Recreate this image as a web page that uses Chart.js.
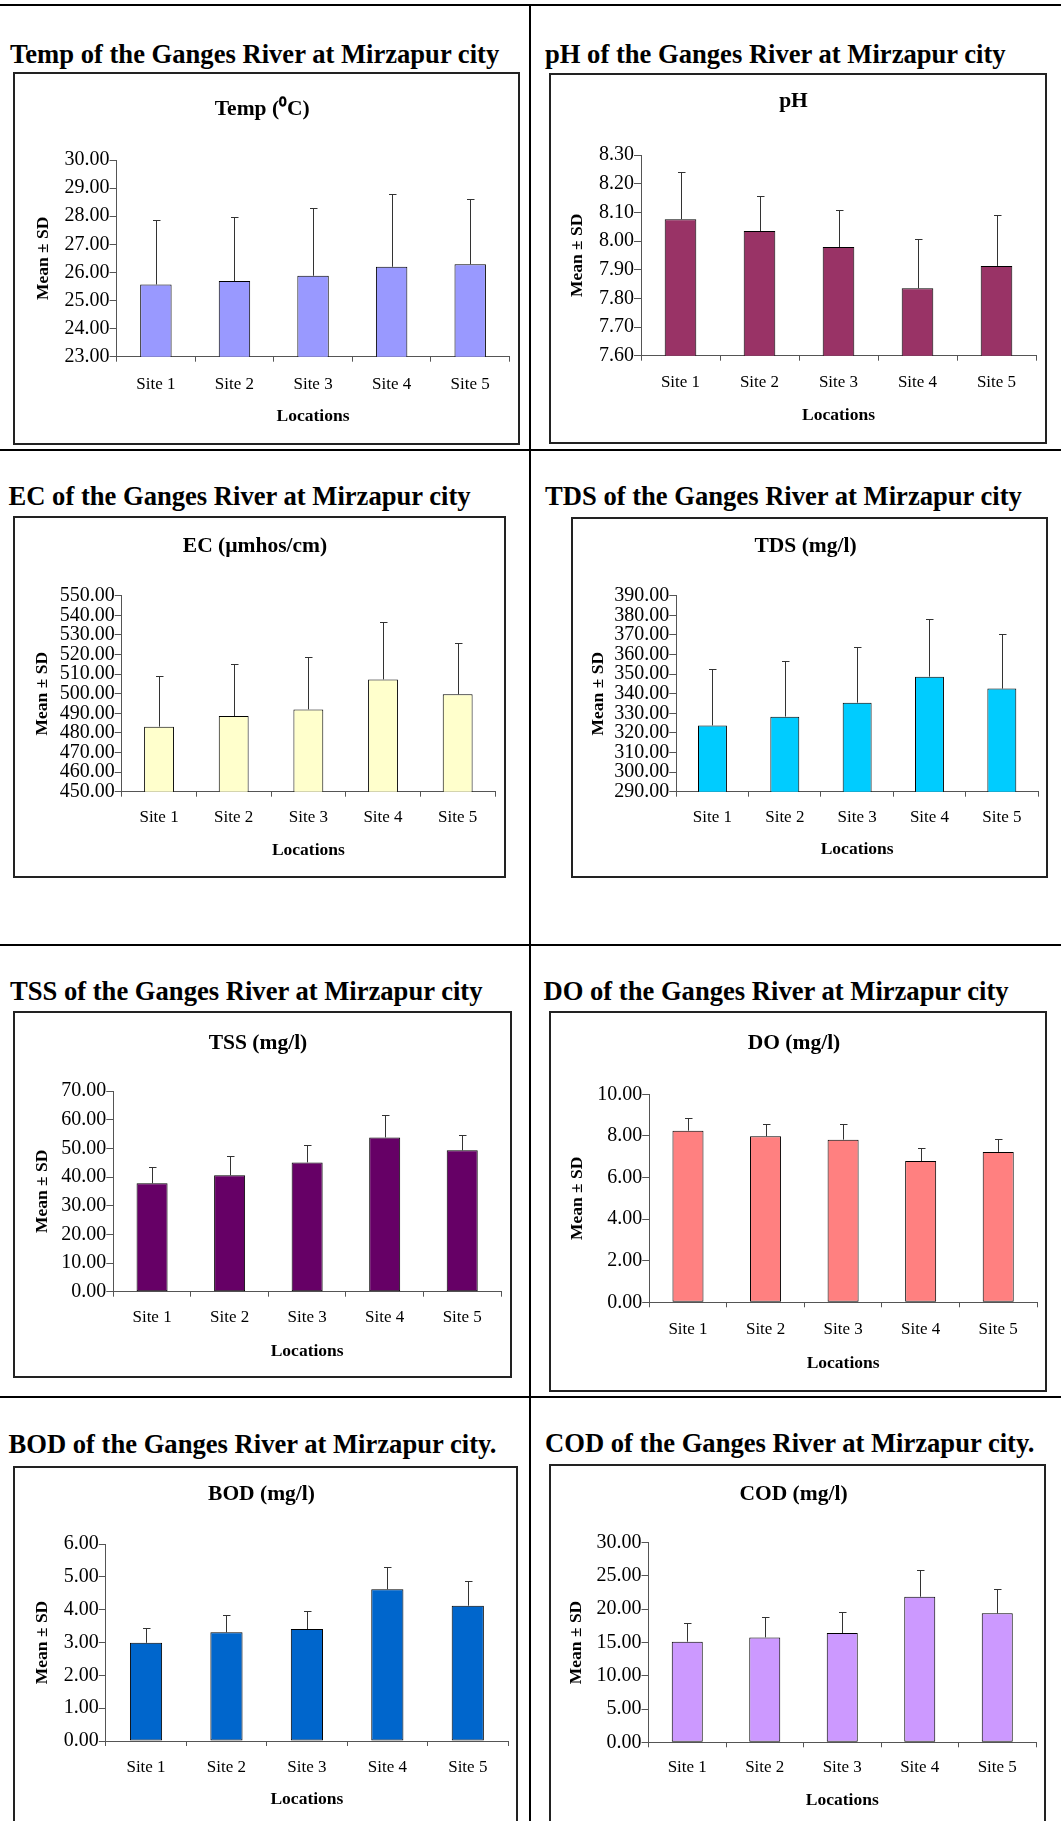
<!DOCTYPE html>
<html>
<head>
<meta charset="utf-8">
<script src="https://cdn.jsdelivr.net/npm/chart.js@4.4.1/dist/chart.umd.min.js"></script>
<style>
  html, body { margin: 0; padding: 0; background: #fff; }
  #page { position: relative; width: 1061px; height: 1821px; overflow: hidden; background: #fff; }
  .rule { position: absolute; background: #000; }
  .heading { position: absolute; font-family: 'Liberation Serif', 'Times New Roman', serif; font-weight: bold;
             font-size: 26.6px; line-height: 30px; white-space: nowrap; color: #000; }
  .box { position: absolute; box-sizing: border-box; border: 2px solid #222; background: #fff; }
  .box canvas { position: absolute; left: 0; top: 0; }
</style>
</head>
<body>
<div id="page"></div>
<script>
// ---- data: mean and standard deviation per sampling site ----
const sites = ['Site 1', 'Site 2', 'Site 3', 'Site 4', 'Site 5'];

const tempMean = [25.57, 25.69, 25.88, 26.20, 26.29];
const tempSD   = [2.29, 2.28, 2.41, 2.58, 2.32];
const tempTicks = [23, 24, 25, 26, 27, 28, 29, 30];

const phMean = [8.076, 8.035, 7.979, 7.835, 7.913];
const phSD   = [0.164, 0.123, 0.128, 0.171, 0.179];
const phTicks = [7.6, 7.7, 7.8, 7.9, 8.0, 8.1, 8.2, 8.3];

const ecMean = [483.2, 488.6, 492.0, 507.3, 499.7];
const ecSD   = [25.8, 26.5, 26.9, 29.4, 26.0];
const ecTicks = [450, 460, 470, 480, 490, 500, 510, 520, 530, 540, 550];

const tdsMean = [323.8, 328.3, 335.4, 348.7, 342.6];
const tdsSD   = [28.8, 28.5, 28.6, 29.2, 27.7];
const tdsTicks = [290, 300, 310, 320, 330, 340, 350, 360, 370, 380, 390];

const tssMean = [37.8, 40.6, 45.1, 53.8, 49.3];
const tssSD   = [5.8, 6.7, 6.2, 7.7, 5.5];
const tssTicks = [0, 10, 20, 30, 40, 50, 60, 70];

const doMean = [8.25, 7.98, 7.82, 6.79, 7.23];
const doSD   = [0.61, 0.61, 0.77, 0.65, 0.64];
const doTicks = [0, 2, 4, 6, 8, 10];

const bodMean = [2.99, 3.31, 3.41, 4.62, 4.12];
const bodSD   = [0.46, 0.53, 0.54, 0.69, 0.76];
const bodTicks = [0, 1, 2, 3, 4, 5, 6];

const codMean = [15.12, 15.77, 16.42, 21.88, 19.38];
const codSD   = [2.76, 3.11, 3.11, 4.06, 3.70];
const codTicks = [0, 5, 10, 15, 20, 25, 30];

// ---- page layout (page pixel coordinates) ----
const SERIF = "'Liberation Serif', 'Times New Roman', serif";
const panels = [
  { heading: 'Temp of the Ganges River at Mirzapur city', hx: 10, hy: 63,
    title: 'Temp (\u2070C)', mean: tempMean, sd: tempSD, ticks: tempTicks, color: '#9999FF',
    box: [14, 73, 519, 444], plot: [116.6, 160, 509.5, 356.7], titleCY: 109.5, siteCY: 385, locCY: 416, yTitleCX: 43 },
  { heading: 'pH of the Ganges River at Mirzapur city', hx: 545, hy: 63,
    title: 'pH', mean: phMean, sd: phSD, ticks: phTicks, color: '#993366',
    box: [550, 74, 1046, 443], plot: [641, 155, 1036, 355.7], titleCY: 101.5, siteCY: 383, locCY: 415, yTitleCX: 577 },
  { heading: 'EC of the Ganges River at Mirzapur city', hx: 8.5, hy: 505,
    title: 'EC (\u00B5mhos/cm)', mean: ecMean, sd: ecSD, ticks: ecTicks, color: '#FFFFCC',
    box: [14, 517, 505, 877], plot: [121.7, 595.7, 495, 791.7], titleCY: 546.5, siteCY: 818, locCY: 850, yTitleCX: 42 },
  { heading: 'TDS of the Ganges River at Mirzapur city', hx: 545, hy: 505,
    title: 'TDS (mg/l)', mean: tdsMean, sd: tdsSD, ticks: tdsTicks, color: '#00CCFF',
    box: [572, 518, 1047, 877], plot: [676.3, 595.7, 1038, 791.7], titleCY: 546.5, siteCY: 818, locCY: 849, yTitleCX: 598 },
  { heading: 'TSS of the Ganges River at Mirzapur city', hx: 10, hy: 1000,
    title: 'TSS (mg/l)', mean: tssMean, sd: tssSD, ticks: tssTicks, color: '#660066',
    box: [14, 1012, 511, 1377], plot: [113.3, 1091, 501, 1291.7], titleCY: 1043, siteCY: 1318, locCY: 1351, yTitleCX: 42 },
  { heading: 'DO of the Ganges River at Mirzapur city', hx: 543.5, hy: 1000,
    title: 'DO (mg/l)', mean: doMean, sd: doSD, ticks: doTicks, color: '#FF8080',
    box: [550, 1012, 1046, 1391], plot: [649.2, 1094.3, 1037, 1302.3], titleCY: 1043.5, siteCY: 1330, locCY: 1363, yTitleCX: 577 },
  { heading: 'BOD of the Ganges River at Mirzapur city.', hx: 8.5, hy: 1453,
    title: 'BOD (mg/l)', mean: bodMean, sd: bodSD, ticks: bodTicks, color: '#0066CC',
    box: [14, 1467, 517, 1850], plot: [105.8, 1544, 508, 1741], titleCY: 1494.5, siteCY: 1768, locCY: 1799, yTitleCX: 42 },
  { heading: 'COD of the Ganges River at Mirzapur city.', hx: 545, hy: 1452,
    title: 'COD (mg/l)', mean: codMean, sd: codSD, ticks: codTicks, color: '#CC99FF',
    box: [550, 1465, 1045, 1850], plot: [648.5, 1542.7, 1036, 1742.3], titleCY: 1494.5, siteCY: 1768, locCY: 1800, yTitleCX: 576 }
];

const page = document.getElementById('page');

// table rules between the panels
[[0, 4, 1061, 2], [0, 449, 1061, 2], [0, 944, 1061, 2], [0, 1396, 1061, 2], [529, 4, 2, 1817]].forEach(r => {
  const d = document.createElement('div');
  d.className = 'rule';
  d.style.left = r[0] + 'px'; d.style.top = r[1] + 'px';
  d.style.width = r[2] + 'px'; d.style.height = r[3] + 'px';
  page.appendChild(d);
});

// upward (plus) error bars drawn from the top of each bar
const errorBars = {
  id: 'errorBars',
  afterDatasetsDraw(chart, args, opts) {
    const sd = opts.sd || [];
    const ys = chart.scales.y;
    const meta = chart.getDatasetMeta(0);
    const vals = chart.data.datasets[0].data;
    const ctx = chart.ctx;
    ctx.save();
    ctx.strokeStyle = '#333';
    ctx.lineWidth = 1;
    meta.data.forEach((bar, i) => {
      const yTop = ys.getPixelForValue(vals[i] + sd[i]);
      const x = Math.round(bar.x) + 0.5;
      const yt = Math.round(yTop) + 0.5;
      ctx.beginPath();
      ctx.moveTo(x, bar.y);
      ctx.lineTo(x, yt);
      ctx.moveTo(x - 3.5, yt);
      ctx.lineTo(x + 4, yt);
      ctx.stroke();
    });
    ctx.restore();
  }
};

const TICK_SIZE = 20, SITE_SIZE = 17, AXIS_TITLE_SIZE = 17.5, TITLE_SIZE = 21.5;

panels.forEach(p => {
  const [bx, by, br, bb] = p.box;
  const box = document.createElement('div');
  box.className = 'box';
  box.style.left = (bx - 1) + 'px';
  box.style.top = (by - 1) + 'px';
  box.style.width = (br - bx + 2) + 'px';
  box.style.height = (bb - by + 2) + 'px';
  page.appendChild(box);

  const h = document.createElement('div');
  h.className = 'heading';
  h.textContent = p.heading;
  h.style.left = p.hx + 'px';
  h.style.top = (p.hy - 24) + 'px';
  page.appendChild(h);

  // canvas sits inside the 2px border
  const ox = bx + 1, oy = by + 1;
  const cw = br - bx - 2, ch = bb - by - 2;
  const canvas = document.createElement('canvas');
  canvas.width = cw; canvas.height = ch;
  canvas.style.width = cw + 'px'; canvas.style.height = ch + 'px';
  box.appendChild(canvas);

  const pl = p.plot[0] - ox, pt = p.plot[1] - oy, pr = p.plot[2] - ox, pb = p.plot[3] - oy;
  const tLH = TITLE_SIZE * 1.2, aLH = AXIS_TITLE_SIZE * 1.2, sLH = SITE_SIZE * 1.2;
  const titlePadTop = (p.titleCY - oy) - tLH / 2;
  const titlePadBottom = pt - titlePadTop - tLH;
  const xScaleHeight = (p.locCY - oy) + aLH / 2 - pb;
  const tickLenX = 5, tickLenY = 7;

  const lo = p.ticks[0], hi = p.ticks[p.ticks.length - 1];
  const step = p.ticks[1] - p.ticks[0];

  new Chart(canvas, {
    type: 'bar',
    data: {
      labels: sites,
      datasets: [{
        data: p.mean,
        backgroundColor: p.color,
        borderColor: '#000',
        borderWidth: 1,
        borderSkipped: false,
        barPercentage: 0.4,
        categoryPercentage: 1.0
      }]
    },
    options: {
      responsive: false,
      animation: false,
      devicePixelRatio: 1,
      layout: { padding: { left: 0, top: 0, right: cw - pr, bottom: ch - (pb + xScaleHeight) } },
      plugins: {
        legend: { display: false },
        tooltip: { enabled: false },
        title: {
          display: true, text: p.title, color: '#000',
          font: { family: SERIF, size: TITLE_SIZE, weight: 'bold', lineHeight: 1.2 },
          padding: { top: titlePadTop, bottom: titlePadBottom }
        },
        errorBars: { sd: p.sd }
      },
      scales: {
        x: {
          offset: true,
          grid: { display: true, offset: true, drawOnChartArea: false, drawTicks: true,
                  tickLength: tickLenX, color: '#555', lineWidth: 1 },
          border: { display: true, color: '#555', width: 1 },
          ticks: { font: { family: SERIF, size: SITE_SIZE }, color: '#000', maxRotation: 0, autoSkip: false,
                   padding: (p.siteCY - oy) - pb - tickLenX - sLH / 2 },
          title: { display: true, text: 'Locations', color: '#000',
                   font: { family: SERIF, size: AXIS_TITLE_SIZE, weight: 'bold', lineHeight: 1.2 },
                   padding: { top: 0, bottom: 0 } },
          afterFit(s) { s.height = xScaleHeight; }
        },
        y: {
          min: lo, max: hi,
          afterBuildTicks(s) { s.ticks = p.ticks.map(v => ({ value: v })); },
          grid: { display: true, drawOnChartArea: false, drawTicks: true, tickLength: tickLenY, color: '#555', lineWidth: 1 },
          border: { display: true, color: '#555', width: 1 },
          ticks: { stepSize: step, autoSkip: false, font: { family: SERIF, size: TICK_SIZE, lineHeight: 1 },
                   color: '#000', padding: 0, callback: v => Number(v).toFixed(2) },
          title: { display: true, text: 'Mean \u00B1 SD', color: '#000',
                   font: { family: SERIF, size: AXIS_TITLE_SIZE, weight: 'bold', lineHeight: 1.2 },
                   padding: { top: (p.yTitleCX - ox) - aLH / 2, bottom: 0 } },
          afterFit(s) { s.width = pl; }
        }
      }
    },
    plugins: [errorBars]
  });
});
</script>
</body>
</html>
